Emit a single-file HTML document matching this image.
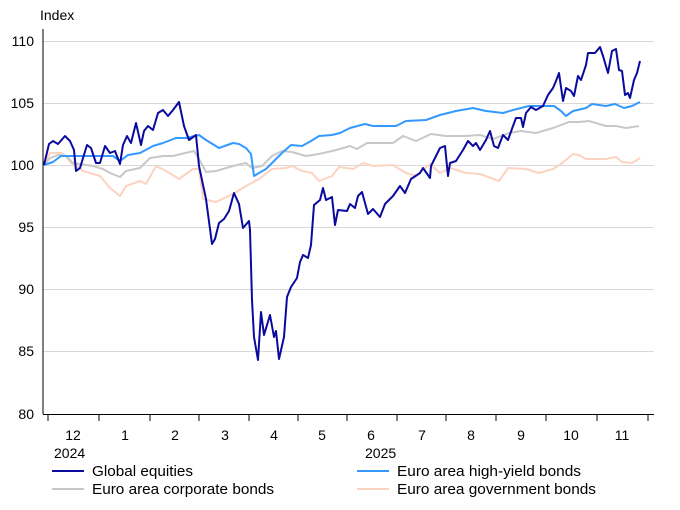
<!DOCTYPE html>
<html><head><meta charset="utf-8"><style>
html,body{margin:0;padding:0;background:#fff;}
svg{display:block;font-family:"Liberation Sans",Arial,sans-serif;}
</style></head><body>
<svg width="680" height="510" viewBox="0 0 680 510" xmlns="http://www.w3.org/2000/svg">
<g stroke="#d9d9d9" stroke-width="1">
<line x1="43" y1="41.5" x2="654" y2="41.5"/>
<line x1="43" y1="103.5" x2="654" y2="103.5"/>
<line x1="43" y1="165.5" x2="654" y2="165.5"/>
<line x1="43" y1="227.5" x2="654" y2="227.5"/>
<line x1="43" y1="289.5" x2="654" y2="289.5"/>
<line x1="43" y1="351.5" x2="654" y2="351.5"/>
</g>
<g font-size="14" fill="#000" text-anchor="end">
<text x="34" y="46">110</text><text x="34" y="108">105</text><text x="34" y="170">100</text>
<text x="34" y="232">95</text><text x="34" y="294">90</text><text x="34" y="356">85</text><text x="34" y="419">80</text>
</g>
<text x="40" y="20" font-size="14">Index</text>
<g fill="none" stroke-linejoin="round" stroke-width="2">
<polyline stroke="#fcd3c1" points="44,165 50,153 61,153 66,156 71,163 83,171 100,176 110,188 120,196 126,186 140,181 146,184 156,166 166,171 179,179 193,169 199,169 203,199 216,202 233,194 246,186 259,179 272,169 286,168 292,166 302,171 312,173 319,181 332,176 339,167 353,169 363,163 373,166 393,165 406,173 416,176 430,164 440,173 450,168 466,173 480,174 499,181 508,168 526,169 539,173 553,169 561,164 573,154 579,155 586,159 606,159 616,157 622,162 632,163 640,158"/>
<polyline stroke="#c8c8c8" points="44,165 50,158 58,155 66,156 73,163 93,166 103,169 110,173 120,177 126,171 140,168 150,158 163,156 173,156 181,154 194,151 199,159 206,172 216,171 233,166 246,163 252,168 262,166 272,156 282,151 292,152 306,156 319,154 332,151 340,149 350,146 357,149 367,143 393,143 403,136 416,141 431,134 446,136 466,136 480,135 493,139 509,133 521,131 536,133 553,128 569,122 579,122 589,121 606,126 616,126 626,128 639,126"/>
<polyline stroke="#3399ff" points="44,165 53,162 61,156 73,156 100,156 113,156 120,161 128,155 140,153 153,146 163,143 176,138 186,138 199,135 206,140 219,148 233,143 239,144 246,148 251,154 254,176 259,173 266,169 272,163 282,153 291,145 302,146 311,141 319,136 332,135 340,133 350,128 365,124 373,126 396,126 406,121 426,120 440,115 456,111 473,108 486,111 503,113 513,110 529,106 546,106 554,106 561,111 566,116 573,111 586,108 592,104 606,106 615,104 624,108 632,106 640,102"/>
<polyline stroke="#0a0a9e" points="44,165 49,144 53,141 58,144 65,136 70,141 74,150 76,171 80,168 87,145 91,148 96,163 100,163 105,146 110,153 115,151 120,164 123,145 127,136 131,143 136,123 141,145 144,131 148,126 153,130 158,113 163,110 168,116 173,110 179,102 184,126 189,140 196,135 199,166 206,199 212,244 215,239 219,223 224,219 229,211 234,193 239,204 243,228 249,221 250,230 252,300 254,337 258,360 261,312 264,335 270,315 274,337 276,331 279,359 284,337 287,297 291,287 297,278 300,262 303,255 308,258 311,245 314,205 320,200 323,188 326,200 332,197 335,225 338,210 347,211 350,204 355,208 358,196 362,192 368,214 373,209 380,217 385,204 393,196 400,186 405,193 411,179 420,173 423,168 430,178 431,166 440,148 445,146 448,176 450,163 456,161 463,150 468,141 473,146 476,143 480,150 486,140 490,131 494,146 498,148 503,135 508,140 513,126 516,118 521,118 523,127 526,113 531,107 536,110 543,106 548,95 553,88 556,81 559,73 563,101 566,88 571,91 574,96 578,76 581,80 586,65 588,53 595,53 600,47 603,56 608,73 612,51 616,49 619,70 622,71 625,95 628,93 630,98 634,80 637,73 640,61"/>
</g>
<line x1="43" y1="29" x2="43" y2="414" stroke="#000" stroke-width="1"/>
<line x1="43" y1="414.5" x2="654" y2="414.5" stroke="#000" stroke-width="1"/>
<g stroke="#000" stroke-width="1">
<line x1="48" y1="414" x2="48" y2="421"/><line x1="99" y1="414" x2="99" y2="421"/><line x1="150" y1="414" x2="150" y2="421"/>
<line x1="199" y1="414" x2="199" y2="421"/><line x1="249" y1="414" x2="249" y2="421"/><line x1="298" y1="414" x2="298" y2="421"/>
<line x1="347" y1="414" x2="347" y2="421"/><line x1="397" y1="414" x2="397" y2="421"/><line x1="446" y1="414" x2="446" y2="421"/>
<line x1="496" y1="414" x2="496" y2="421"/><line x1="546" y1="414" x2="546" y2="421"/><line x1="597" y1="414" x2="597" y2="421"/>
<line x1="648" y1="414" x2="648" y2="421"/>
</g>
<g font-size="14" text-anchor="middle">
<text x="73" y="440">12</text><text x="125" y="440">1</text><text x="175" y="440">2</text><text x="225" y="440">3</text>
<text x="274" y="440">4</text><text x="322" y="440">5</text><text x="371" y="440">6</text><text x="422" y="440">7</text>
<text x="471" y="440">8</text><text x="521" y="440">9</text><text x="571" y="440">10</text><text x="622" y="440">11</text>
</g>
<text x="54" y="458" font-size="14">2024</text>
<text x="365" y="458" font-size="14">2025</text>
<g stroke-width="2">
<line x1="52" y1="471" x2="84" y2="471" stroke="#0a0a9e"/>
<line x1="52" y1="489" x2="84" y2="489" stroke="#c8c8c8"/>
<line x1="357" y1="471" x2="389" y2="471" stroke="#3399ff"/>
<line x1="357" y1="489" x2="389" y2="489" stroke="#fcd3c1"/>
</g>
<g font-size="14.5">
<text x="92" y="476" textLength="101" lengthAdjust="spacingAndGlyphs">Global equities</text>
<text x="92" y="494" textLength="182" lengthAdjust="spacingAndGlyphs">Euro area corporate bonds</text>
<text x="397" y="476" textLength="184" lengthAdjust="spacingAndGlyphs">Euro area high-yield bonds</text>
<text x="397" y="494" textLength="199" lengthAdjust="spacingAndGlyphs">Euro area government bonds</text>
</g>
</svg>
</body></html>
